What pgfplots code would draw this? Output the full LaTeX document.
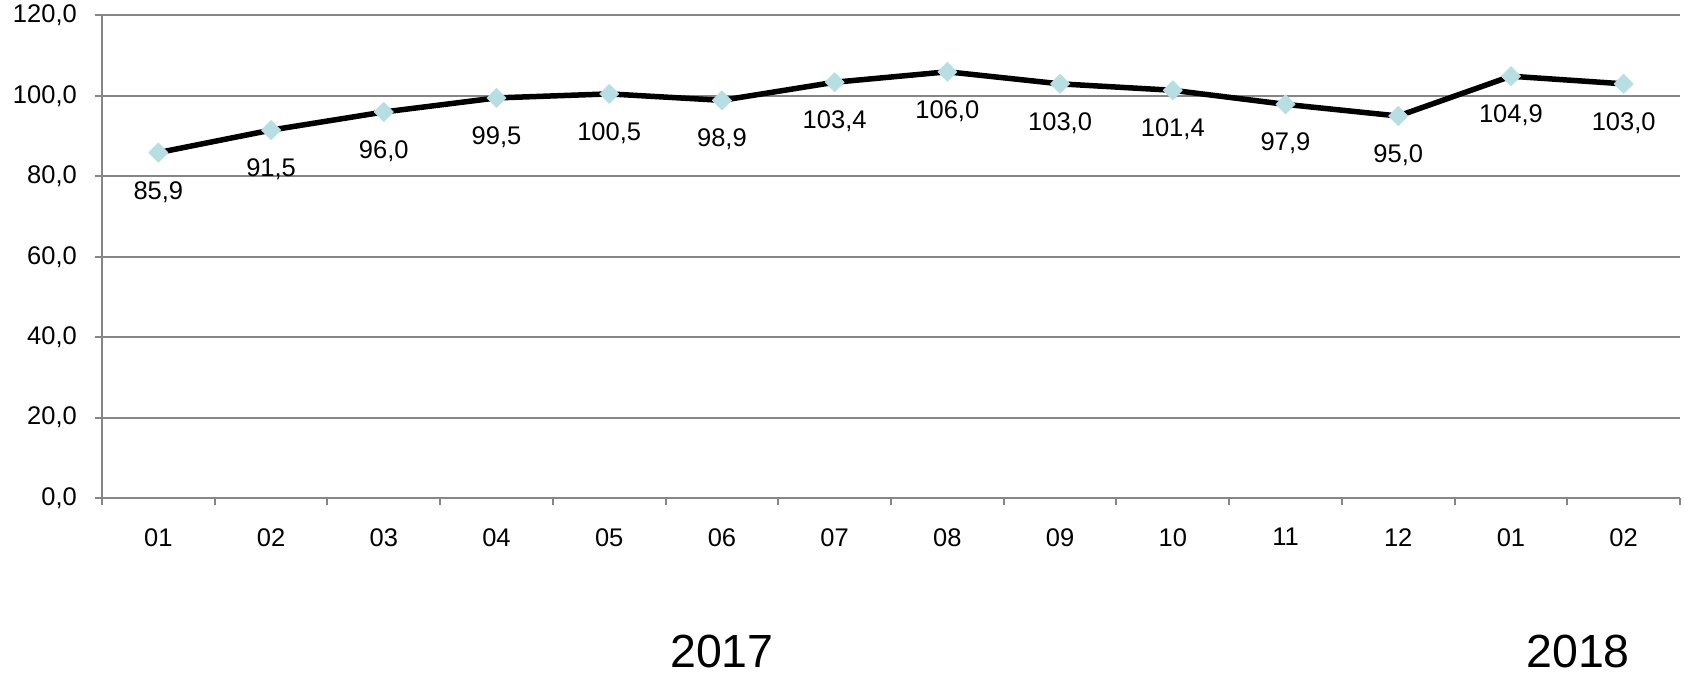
\documentclass[border=0pt]{standalone}
\usepackage{fontspec}
\setmainfont{Liberation Sans}
\usepackage{pgfplots}
\pgfplotsset{compat=1.18}
\definecolor{gridgray}{RGB}{134,134,134}
\definecolor{mk}{RGB}{183,222,226}
\begin{document}
\begin{tikzpicture}[font=\fontsize{25.5}{30}\selectfont]
\path[use as bounding box] (-102pt,-176pt) rectangle (1583pt,498pt);
\begin{axis}[
  at={(0,0)}, anchor=south west,
  scale only axis,
  width=1578pt, height=482.5pt,
  xmin=-0.5, xmax=13.5, ymin=0, ymax=120,
  axis lines=left,
  axis line style={-, gridgray, line width=2pt},
  xtick={-0.5,0.5,...,13.5},
  x tick label as interval,
  xticklabels={01,02,03,04,05,06,07,08,09,10,11,12,01,02},
  ytick={0,20,...,120},
  ymajorgrids,
  grid style={gridgray, line width=2pt},
  tick align=outside,
  major tick length=7pt,
  tick style={gridgray, line width=2pt},
  /pgf/number format/.cd, fixed, fixed zerofill, precision=1, use comma, assume math mode=true,
  /pgfplots/.cd,
  yticklabel style={anchor=east, inner sep=0pt, xshift=-18pt},
  xticklabel style={anchor=north, inner sep=0pt, yshift=-23pt},
  clip=false,
  nodes near coords={\pgfmathprintnumber[fixed,fixed zerofill,precision=1,use comma,assume math mode=true]{\pgfplotspointmeta}},
  every node near coord/.append style={anchor=north, inner sep=0pt, yshift=-28.5pt, black},
]
\addplot[black, line width=5.5pt, line join=round, mark=square*, mark size=6.8pt,
  mark options={solid, rotate=45, fill=mk, draw=mk, line width=0.6pt}]
  coordinates {
  (0,85.9) (1,91.5) (2,96.0) (3,99.5) (4,100.5) (5,98.9) (6,103.4)
  (7,106.0) (8,103.0) (9,101.4) (10,97.9) (11,95.0) (12,104.9) (13,103.0)
  };
\end{axis}
\node[anchor=base, inner sep=0pt, font=\fontsize{46.5}{50}\selectfont] at (620pt,-169pt) {2017};
\node[anchor=base, inner sep=0pt, font=\fontsize{46.5}{50}\selectfont] at (1476pt,-169pt) {2018};
\end{tikzpicture}
\end{document}
